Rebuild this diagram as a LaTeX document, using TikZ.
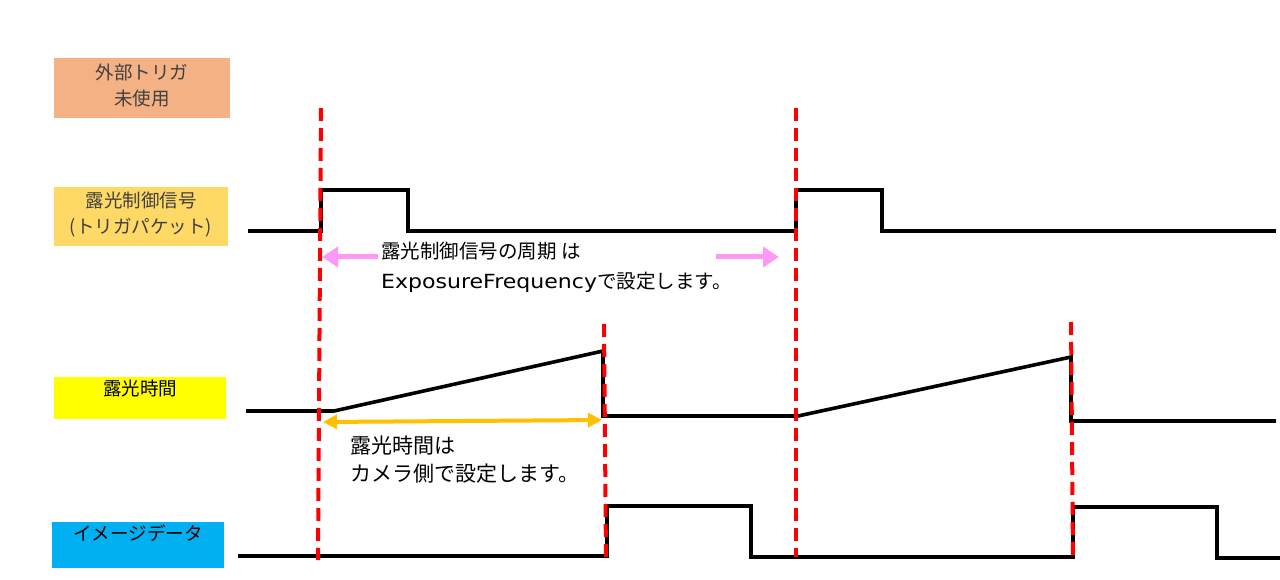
\documentclass[tikz,border=0pt]{standalone}
\usepackage{fontspec}
\setmainfont{Noto Sans CJK JP}
\newfontfamily\widelatin[FakeStretch=1.13]{DejaVu Sans}
\usetikzlibrary{arrows.meta}
\definecolor{salmon}{HTML}{F4B183}
\definecolor{gold}{HTML}{FFD966}
\definecolor{yel}{HTML}{FFFF00}
\definecolor{sky}{HTML}{00B0F0}
\definecolor{pinkarr}{HTML}{FF99F5}
\definecolor{orangearr}{HTML}{FFC000}
\definecolor{txtgray}{HTML}{404040}
\tikzset{
  lbltext/.style={font=\fontsize{18.5}{26}\selectfont, align=center, inner sep=0pt},
  sig/.style={line width=3.6pt, line join=miter, black},
  marker/.style={line width=4pt, red, dash pattern=on 13pt off 7pt},
  pinkarrow/.style={line width=5pt, pinkarr, -{Triangle[length=16pt,width=20pt]}},
  orangearrow/.style={line width=4pt, orangearr, {Triangle[length=14pt,width=14pt]}-{Triangle[length=14pt,width=14pt]}},
  note/.style={align=left, anchor=north west, inner sep=0pt, text=black}
}
\begin{document}
\begin{tikzpicture}[x=1pt,y=-1pt]
\useasboundingbox (0,0) rectangle (1280,580);
% label boxes
\fill[salmon] (54,58) rectangle (230,118);
\node[lbltext, text=txtgray] (l1) at (142,86) {外部トリガ\\未使用};
\fill[gold] (54,187) rectangle (228,246);
\node[lbltext, text=txtgray] (l2) at (141,215) {露光制御信号\\(トリガパケット)};
\fill[yel] (54,377) rectangle (226,419);
\node[lbltext, text=black, anchor=north] (l3) at (140,380) {露光時間};
\fill[sky] (52,522) rectangle (224,568);
\node[lbltext, text=black, anchor=north] (l4) at (138,525) {イメージデータ};

% signals
\draw[sig] (248,231) -- (321,231) -- (321,190) -- (408,190) -- (408,231) -- (796,231) -- (796,190) -- (882,190) -- (882,231) -- (1276,231);
\draw[sig] (246,411) -- (334,411) -- (603,351) -- (603,416) -- (798,416) -- (1071,357) -- (1071,421) -- (1276,421);
\draw[sig] (238,556) -- (607,556) -- (607,506) -- (751,506) -- (751,557) -- (1073,557) -- (1073,507) -- (1217,507) -- (1217,558) -- (1280,558);

% markers
\draw[marker] (321,108) -- (318,560);
\draw[marker] (796,108) -- (796,557);
\draw[marker] (604,324) -- (606,560);
\draw[marker] (1071,322) -- (1073,560);

% pink arrows
\coordinate (p1s) at (378,257);
\coordinate (p1e) at (322,257);
\coordinate (p2s) at (716,257);
\coordinate (p2e) at (779,257);
\draw[pinkarrow] (p1s) -- (p1e);
\draw[pinkarrow] (p2s) -- (p2e);
\node[note, font=\fontsize{19.5}{30}\selectfont] (n1) at (381,242) {露光制御信号の周期 は\\{\widelatin ExposureFrequency}で設定します。};

% orange arrow
\coordinate (o1) at (323,422);
\coordinate (o2) at (602,420);
\draw[orangearrow] (o1) -- (o2);
\node[note, font=\fontsize{21}{28}\selectfont] (n2) at (350,436) {露光時間は\\カメラ側で設定します。};
\end{tikzpicture}
\end{document}
